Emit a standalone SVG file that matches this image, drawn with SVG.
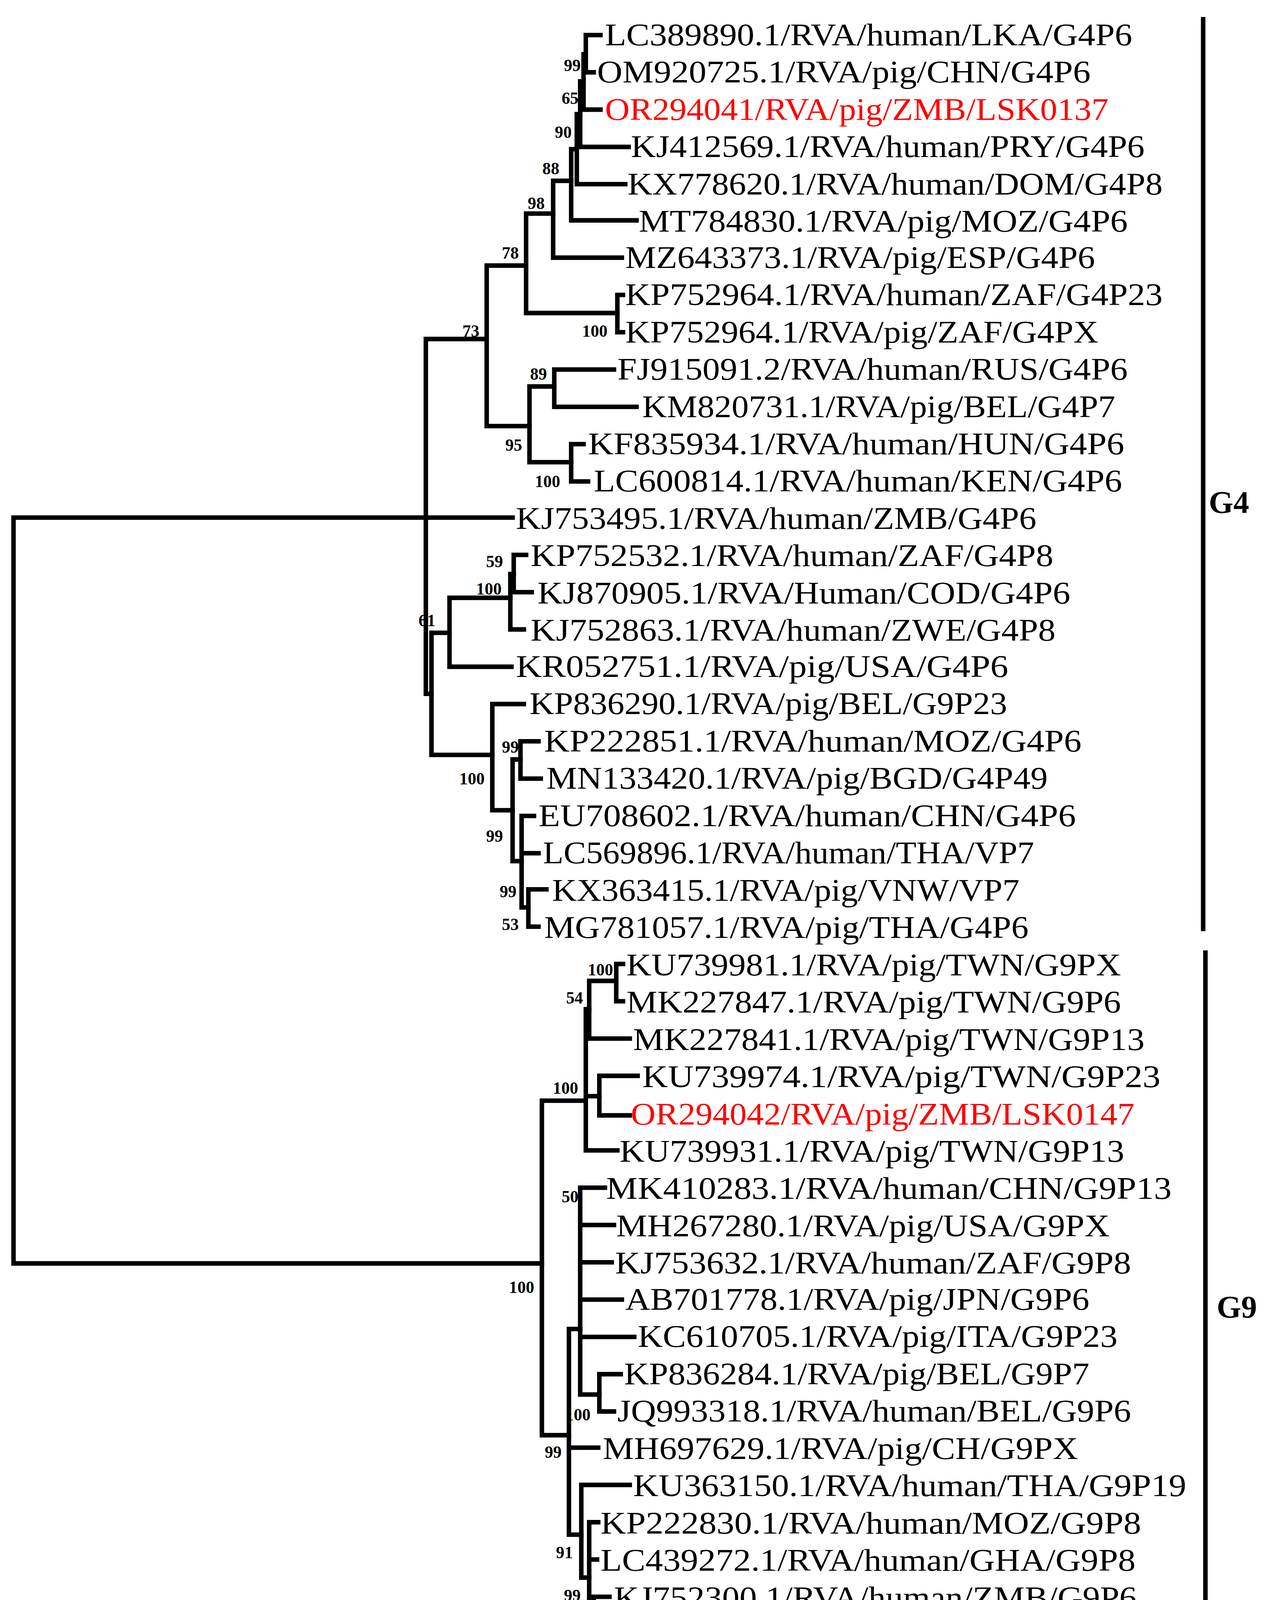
<svg xmlns="http://www.w3.org/2000/svg" width="3260" height="4539" viewBox="0 0 3260 4539">
<style>
.e{fill:none;stroke:#000;stroke-width:4;stroke-linecap:square}
.l{font-family:"Liberation Serif",serif;font-size:28px;fill:#000}
.r{fill:#ff0000}
.b{font-family:"Liberation Serif",serif;font-size:15px;font-weight:bold;fill:#000;text-anchor:middle}
.c{font-family:"Liberation Serif",serif;font-size:28px;font-weight:bold;fill:#000}
</style>
<rect width="3260" height="4539" fill="#fff"/>
<g transform="scale(2.885,2.893)">
<g id="connectors" class="e">
<path d="M12 458V1118M12 458H378M12 1118H481"/>
<path d="M378 300V614M378 300H432M378 458H455M378 614H383"/>
<path d="M432 235V377M432 235H467M432 377H470"/>
<path d="M467 189V277M467 189H491M467 277H548"/>
<path d="M548 261V294M548 261H553M548 294H553"/>
<path d="M491 160V228M491 160H507M491 228H552"/>
<path d="M507 132V195M507 132H512M507 195H565"/>
<path d="M512 101V163M512 101H515M512 163H555"/>
<path d="M515 72V130M515 72H518M515 130H558"/>
<path d="M518 48V97M518 48H520M518 97H533"/>
<path d="M520 31V64M520 31H533M520 64H527"/>
<path d="M470 342V409M470 342H492M470 409H507"/>
<path d="M492 327V360M492 327H545M492 360H565"/>
<path d="M507 393V426M507 393H518M507 426H522"/>
<path d="M383 560V668M383 560H399M383 668H437"/>
<path d="M399 529V590M399 529H453M399 590H454"/>
<path d="M453 508V557M453 508H456M453 557H465"/>
<path d="M456 491V524M456 491H467M456 524H472"/>
<path d="M437 623V717M437 623H465M437 717H455"/>
<path d="M455 672V762M455 672H462M455 762H463"/>
<path d="M462 656V689M462 656H478M462 689H480"/>
<path d="M463 722V803M463 722H474M463 755H478M463 803H469"/>
<path d="M469 787V820M469 787H485M469 820H478"/>
<path d="M481 974V1270M481 974H520M481 1270H505"/>
<path d="M520 893V1018M520 893H523M520 970H532M520 1018H548"/>
<path d="M523 868V919M523 868H547M523 919H559"/>
<path d="M547 853V886M547 853H553M547 886H553"/>
<path d="M532 952V987M532 952H566M532 987H559"/>
<path d="M505 1176V1358M505 1176H515M505 1281H531M505 1358H516"/>
<path d="M515 1051V1234M515 1051H537M515 1084H545M515 1117H543M515 1150H552M515 1183H563M515 1234H532"/>
<path d="M532 1216V1249M532 1216H551M532 1249H545"/>
<path d="M516 1314V1396M516 1314H559M516 1396H523"/>
<path d="M523 1347V1446M523 1347H531M523 1380H530M523 1446H527"/>
<path d="M527 1413V1479M527 1413H541M527 1446H533M527 1479H537"/>
<path d="M1068 17V822M1070 843V1487"/>
<path d="M78 1524H195M78 1517V1531M195 1517V1531"/>
</g>
<g id="leaves">
<text class="l" x="537" y="40" textLength="468" lengthAdjust="spacingAndGlyphs">LC389890.1/RVA/human/LKA/G4P6</text>
<text class="l" x="530" y="73" textLength="438" lengthAdjust="spacingAndGlyphs">OM920725.1/RVA/pig/CHN/G4P6</text>
<text class="l r" x="537" y="106" textLength="447" lengthAdjust="spacingAndGlyphs">OR294041/RVA/pig/ZMB/LSK0137</text>
<text class="l" x="560" y="139" textLength="456" lengthAdjust="spacingAndGlyphs">KJ412569.1/RVA/human/PRY/G4P6</text>
<text class="l" x="557" y="172" textLength="475" lengthAdjust="spacingAndGlyphs">KX778620.1/RVA/human/DOM/G4P8</text>
<text class="l" x="567" y="205" textLength="434" lengthAdjust="spacingAndGlyphs">MT784830.1/RVA/pig/MOZ/G4P6</text>
<text class="l" x="555" y="237" textLength="417" lengthAdjust="spacingAndGlyphs">MZ643373.1/RVA/pig/ESP/G4P6</text>
<text class="l" x="555" y="270" textLength="477" lengthAdjust="spacingAndGlyphs">KP752964.1/RVA/human/ZAF/G4P23</text>
<text class="l" x="555" y="303" textLength="420" lengthAdjust="spacingAndGlyphs">KP752964.1/RVA/pig/ZAF/G4PX</text>
<text class="l" x="548" y="336" textLength="453" lengthAdjust="spacingAndGlyphs">FJ915091.2/RVA/human/RUS/G4P6</text>
<text class="l" x="570" y="369" textLength="420" lengthAdjust="spacingAndGlyphs">KM820731.1/RVA/pig/BEL/G4P7</text>
<text class="l" x="522" y="402" textLength="476" lengthAdjust="spacingAndGlyphs">KF835934.1/RVA/human/HUN/G4P6</text>
<text class="l" x="527" y="435" textLength="469" lengthAdjust="spacingAndGlyphs">LC600814.1/RVA/human/KEN/G4P6</text>
<text class="l" x="458" y="468" textLength="462" lengthAdjust="spacingAndGlyphs">KJ753495.1/RVA/human/ZMB/G4P6</text>
<text class="l" x="471" y="501" textLength="464" lengthAdjust="spacingAndGlyphs">KP752532.1/RVA/human/ZAF/G4P8</text>
<text class="l" x="477" y="534" textLength="473" lengthAdjust="spacingAndGlyphs">KJ870905.1/RVA/Human/COD/G4P6</text>
<text class="l" x="471" y="567" textLength="466" lengthAdjust="spacingAndGlyphs">KJ752863.1/RVA/human/ZWE/G4P8</text>
<text class="l" x="458" y="599" textLength="437" lengthAdjust="spacingAndGlyphs">KR052751.1/RVA/pig/USA/G4P6</text>
<text class="l" x="470" y="632" textLength="424" lengthAdjust="spacingAndGlyphs">KP836290.1/RVA/pig/BEL/G9P23</text>
<text class="l" x="483" y="665" textLength="477" lengthAdjust="spacingAndGlyphs">KP222851.1/RVA/human/MOZ/G4P6</text>
<text class="l" x="485" y="698" textLength="445" lengthAdjust="spacingAndGlyphs">MN133420.1/RVA/pig/BGD/G4P49</text>
<text class="l" x="478" y="731" textLength="477" lengthAdjust="spacingAndGlyphs">EU708602.1/RVA/human/CHN/G4P6</text>
<text class="l" x="482" y="764" textLength="436" lengthAdjust="spacingAndGlyphs">LC569896.1/RVA/human/THA/VP7</text>
<text class="l" x="490" y="797" textLength="415" lengthAdjust="spacingAndGlyphs">KX363415.1/RVA/pig/VNW/VP7</text>
<text class="l" x="483" y="830" textLength="430" lengthAdjust="spacingAndGlyphs">MG781057.1/RVA/pig/THA/G4P6</text>
<text class="l" x="556" y="863" textLength="439" lengthAdjust="spacingAndGlyphs">KU739981.1/RVA/pig/TWN/G9PX</text>
<text class="l" x="556" y="896" textLength="439" lengthAdjust="spacingAndGlyphs">MK227847.1/RVA/pig/TWN/G9P6</text>
<text class="l" x="562" y="929" textLength="454" lengthAdjust="spacingAndGlyphs">MK227841.1/RVA/pig/TWN/G9P13</text>
<text class="l" x="570" y="962" textLength="460" lengthAdjust="spacingAndGlyphs">KU739974.1/RVA/pig/TWN/G9P23</text>
<text class="l r" x="560" y="995" textLength="447" lengthAdjust="spacingAndGlyphs">OR294042/RVA/pig/ZMB/LSK0147</text>
<text class="l" x="550" y="1028" textLength="448" lengthAdjust="spacingAndGlyphs">KU739931.1/RVA/pig/TWN/G9P13</text>
<text class="l" x="538" y="1061" textLength="502" lengthAdjust="spacingAndGlyphs">MK410283.1/RVA/human/CHN/G9P13</text>
<text class="l" x="547" y="1094" textLength="438" lengthAdjust="spacingAndGlyphs">MH267280.1/RVA/pig/USA/G9PX</text>
<text class="l" x="546" y="1127" textLength="458" lengthAdjust="spacingAndGlyphs">KJ753632.1/RVA/human/ZAF/G9P8</text>
<text class="l" x="555" y="1159" textLength="412" lengthAdjust="spacingAndGlyphs">AB701778.1/RVA/pig/JPN/G9P6</text>
<text class="l" x="566" y="1192" textLength="426" lengthAdjust="spacingAndGlyphs">KC610705.1/RVA/pig/ITA/G9P23</text>
<text class="l" x="554" y="1225" textLength="413" lengthAdjust="spacingAndGlyphs">KP836284.1/RVA/pig/BEL/G9P7</text>
<text class="l" x="548" y="1258" textLength="456" lengthAdjust="spacingAndGlyphs">JQ993318.1/RVA/human/BEL/G9P6</text>
<text class="l" x="535" y="1291" textLength="422" lengthAdjust="spacingAndGlyphs">MH697629.1/RVA/pig/CH/G9PX</text>
<text class="l" x="562" y="1324" textLength="491" lengthAdjust="spacingAndGlyphs">KU363150.1/RVA/human/THA/G9P19</text>
<text class="l" x="533" y="1357" textLength="480" lengthAdjust="spacingAndGlyphs">KP222830.1/RVA/human/MOZ/G9P8</text>
<text class="l" x="533" y="1390" textLength="475" lengthAdjust="spacingAndGlyphs">LC439272.1/RVA/human/GHA/G9P8</text>
<text class="l" x="545" y="1423" textLength="464" lengthAdjust="spacingAndGlyphs">KJ752300.1/RVA/human/ZMB/G9P6</text>
<text class="l" x="536" y="1456" textLength="457" lengthAdjust="spacingAndGlyphs">KJ752689.1/RVA/human/ZAF/G9P6</text>
<text class="l" x="541" y="1489" textLength="469" lengthAdjust="spacingAndGlyphs">KP752521.1/RVA/human/TGO/G9P8</text>
</g>
<g id="bootstrap">
<text class="b" x="508" y="63">99</text>
<text class="b" x="506" y="92">65</text>
<text class="b" x="500" y="122">90</text>
<text class="b" x="489" y="154">88</text>
<text class="b" x="476" y="185">98</text>
<text class="b" x="453" y="229">78</text>
<text class="b" x="418" y="298">73</text>
<text class="b" x="528" y="298">100</text>
<text class="b" x="478" y="336">89</text>
<text class="b" x="456" y="399">95</text>
<text class="b" x="486" y="431">100</text>
<text class="b" x="439" y="502">59</text>
<text class="b" x="434" y="526">100</text>
<text class="b" x="379" y="554">61</text>
<text class="b" x="453" y="666">99</text>
<text class="b" x="419" y="694">100</text>
<text class="b" x="439" y="745">99</text>
<text class="b" x="451" y="794">99</text>
<text class="b" x="453" y="823">53</text>
<text class="b" x="533" y="863">100</text>
<text class="b" x="510" y="888">54</text>
<text class="b" x="502" y="968">100</text>
<text class="b" x="506" y="1064">50</text>
<text class="b" x="463" y="1144">100</text>
<text class="b" x="513" y="1257">100</text>
<text class="b" x="491" y="1290">99</text>
<text class="b" x="501" y="1379">91</text>
<text class="b" x="508" y="1417">99</text>
<text class="b" x="514" y="1490">67</text>
</g>
<g id="clades">
<text class="c" x="1073" y="454">G4</text>
<text class="c" x="1080" y="1166">G9</text>
<text class="c" x="128" y="1558" style="font-size:24px">0.2</text>
</g>
</g>
</svg>
